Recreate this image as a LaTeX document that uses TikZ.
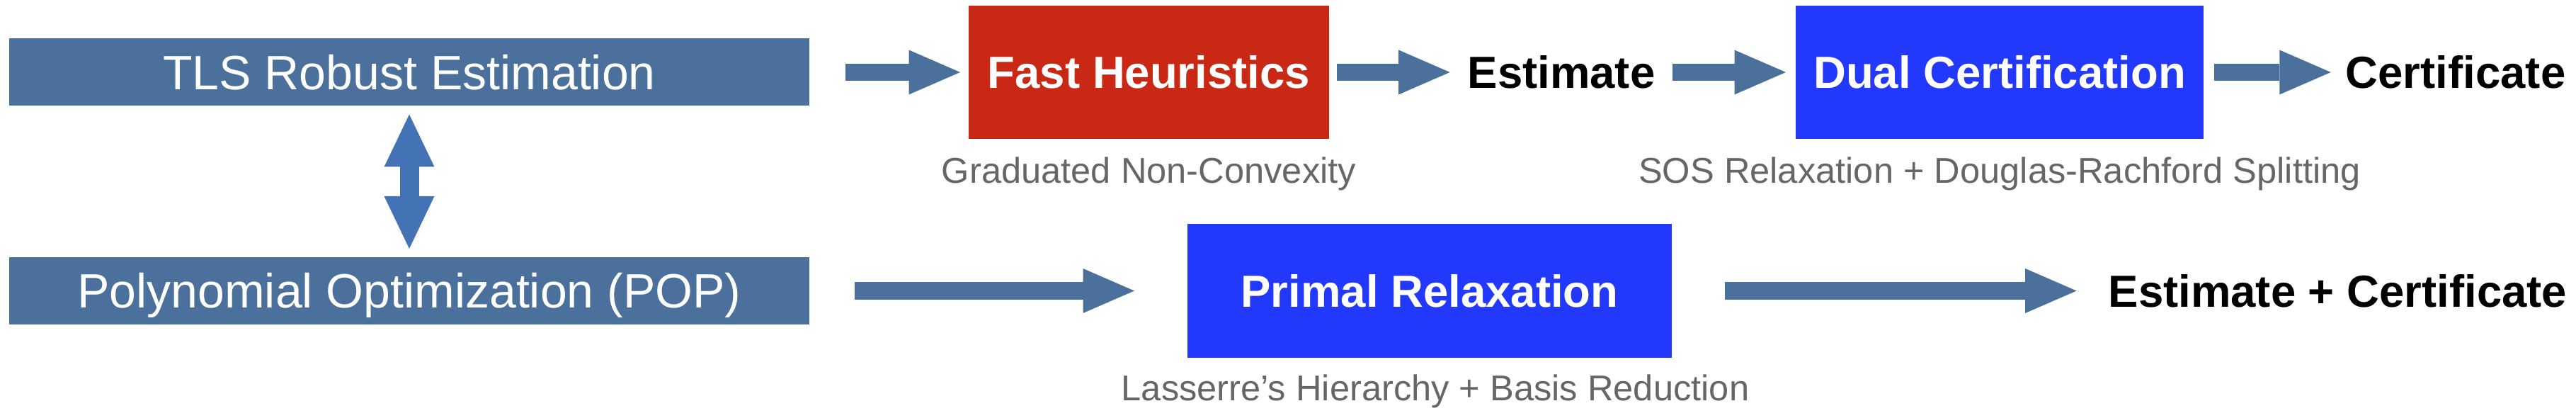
\documentclass[tikz,border=0pt]{standalone}
\usepackage{fontspec}
\setmainfont{Liberation Sans}
\usepackage{tikz}
\usetikzlibrary{arrows.meta}
\definecolor{steelbox}{RGB}{74,112,155}
\definecolor{linkblue}{RGB}{68,115,181}
\definecolor{heurred}{RGB}{200,40,20}
\definecolor{certblue}{RGB}{34,56,250}
\definecolor{notegray}{RGB}{102,102,102}

\begin{document}
\begin{tikzpicture}[
    probbox/.style={fill=steelbox, text=white, inner sep=0pt, outer sep=0pt,
        minimum width=11.30cm, minimum height=0.95cm,
        font=\fontsize{19.35}{23}\selectfont, text height=0.487cm, text depth=0pt},
    solvebox/.style={text=white, inner sep=0pt, outer sep=0pt, minimum height=1.885cm,
        font=\fontsize{18.07}{22}\selectfont\bfseries, text height=0.455cm, text depth=0pt},
    outtext/.style={inner sep=0pt, outer sep=0pt,
        font=\fontsize{18.07}{22}\selectfont\bfseries, text height=0.455cm, text depth=0pt},
    subnote/.style={anchor=base, inner sep=0pt, text=notegray, font=\fontsize{14.4}{17}\selectfont},
    flowarrow/.style={draw=steelbox, line width=0.245cm,
        -{Triangle[length=0.725cm, width=0.63cm, line width=0pt]}},
    linkarrow/.style={draw=linkblue, line width=0.27cm,
        {Triangle[length=0.74cm, width=0.71cm, line width=0pt]}-{Triangle[length=0.74cm, width=0.71cm, line width=0pt]}}
]
    %
    \useasboundingbox (0,0) rectangle (36.38,5.89);
    %
    % problem formulations
    \node[probbox] (tls) at (5.78, 4.87) {TLS Robust Estimation};
    \node[probbox] (pop) at (5.78, 1.785) {Polynomial Optimization (POP)};
    %
    % solvers
    \node[solvebox, fill=heurred, minimum width=5.09cm] (fast) at (16.225, 4.87) {Fast Heuristics};
    \node[solvebox, fill=certblue, minimum width=5.76cm] (dual) at (28.24, 4.87) {Dual Certification};
    \node[solvebox, fill=certblue, minimum width=6.84cm, minimum height=1.89cm] (primal) at (20.19, 1.785) {Primal Relaxation};
    %
    % outputs
    \node[outtext] (est) at (22.05, 4.87) {Estimate};
    \node[outtext] (cert) at (34.68, 4.87) {Certificate};
    \node[outtext] (estcert) at (33.015, 1.785) {Estimate + Certificate};
    %
    % notes under the solvers
    \node[subnote] (gnc) at (16.225, 3.30) {Graduated Non-Convexity};
    \node[subnote] (sos) at (28.24, 3.30) {SOS Relaxation + Douglas-Rachford Splitting};
    \node[subnote] (lass) at (20.27, 0.24) {Lasserre’s Hierarchy + Basis Reduction};
    %
    %
    \draw[linkarrow, shorten <=0.12cm, shorten >=0.12cm] (tls.south) -- (pop.north);
    %
    \draw[flowarrow, shorten <=0.51cm, shorten >=0.12cm] (tls.east) -- (fast.west);
    \draw[flowarrow, shorten <=0.11cm, shorten >=0.25cm] (fast.east) -- (est.west);
    \draw[flowarrow, shorten <=0.25cm, shorten >=0.14cm] (est.east) -- (dual.west);
    \draw[flowarrow, shorten <=0.15cm, shorten >=0.21cm] (dual.east) -- (cert.west);
    %
    \draw[flowarrow, shorten <=0.64cm, shorten >=0.75cm] (pop.east) -- (primal.west);
    \draw[flowarrow, shorten <=0.75cm, shorten >=0.45cm] (primal.east) -- (estcert.west);
    %
\end{tikzpicture}
\end{document}
